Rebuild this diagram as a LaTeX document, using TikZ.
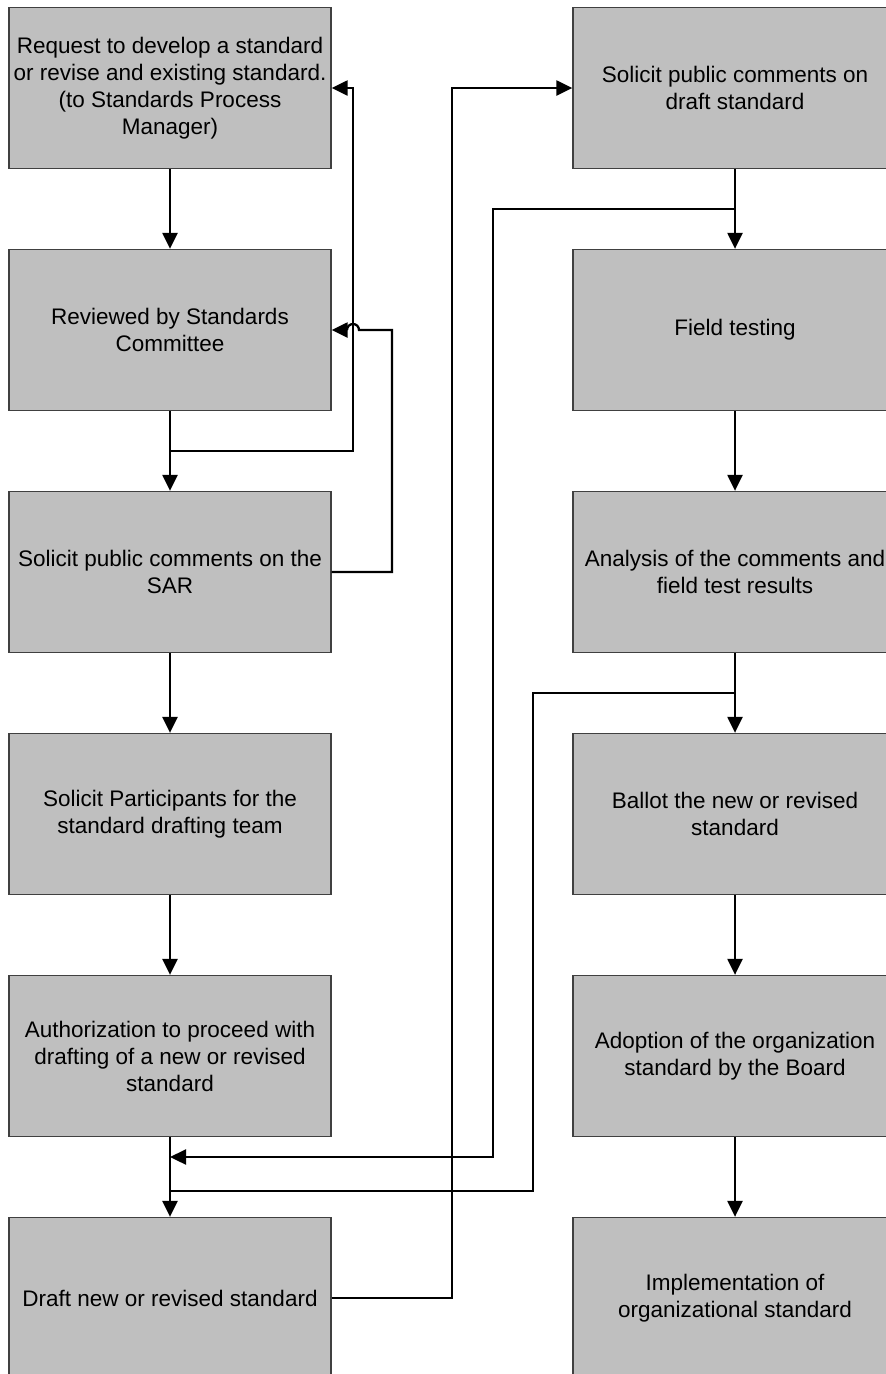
\documentclass[tikz,border=0pt]{standalone}
\usepackage{fontspec}
\setmainfont{Liberation Sans}
\usetikzlibrary{arrows.meta}
\begin{document}
\begin{tikzpicture}[x=1pt,y=-1pt,
  box/.style={draw=black!75, line width=1.3pt, fill=black!25, minimum height=161pt, inner sep=0pt, align=center, font=\fontsize{22.5}{27}\selectfont},
  lbox/.style={box, minimum width=322pt},
  rbox/.style={box, minimum width=324pt},
  conn/.style={line width=2.3pt, line join=miter},
  arr/.style={conn, -{Triangle[length=16pt,width=15pt]}}]
\useasboundingbox (0,0) rectangle (886,1374);
\clip (0,0) rectangle (886,1374);
% left column
\node[lbox] (req) at (170,88) {Request to develop a standard\\or revise and existing standard.\\(to Standards Process\\Manager)};
\node[lbox] (rev) at (170,330) {Reviewed by Standards\\Committee};
\node[lbox] (sar) at (170,572) {Solicit public comments on the\\SAR};
\node[lbox] (par) at (170,814) {Solicit Participants for the\\standard drafting team};
\node[lbox] (aut) at (170,1056) {Authorization to proceed with\\drafting of a new or revised\\standard};
\node[lbox] (dra) at (170,1298) {Draft new or revised standard};
% right column
\node[rbox] (sd) at (735,88) {Solicit public comments on\\draft standard};
\node[rbox] (ft) at (735,330) {Field testing};
\node[rbox] (an) at (735,572) {Analysis of the comments and\\field test results};
\node[rbox] (bal) at (735,814) {Ballot the new or revised\\standard};
\node[rbox] (ado) at (735,1056) {Adoption of the organization\\standard by the Board};
\node[rbox] (imp) at (735,1298) {Implementation of\\organizational standard};
% junction coordinates
\coordinate (j1) at (170,451);
\coordinate (b1) at (353,451);
\coordinate (b2) at (392,572);
\coordinate (b3) at (392,330);
\coordinate (h1) at (359,330);
\coordinate (j2) at (735,209);
\coordinate (b4) at (493,1157);
\coordinate (j4) at (170,1157);
\coordinate (j3) at (735,693);
\coordinate (b5) at (533,1191);
\coordinate (j5) at (170,1191);
\coordinate (b6) at (452,1298);
% left column flow
\draw[arr] (req) -- (rev);
\draw[arr] (rev) -- (sar);
\draw[arr] (sar) -- (par);
\draw[arr] (par) -- (aut);
\draw[arr] (aut) -- (dra);
% feedback loops
\draw[arr] (j1) -- (b1) |- (req.east);
\draw[arr] (sar.east) -- (b2) -- (b3) -- (h1) arc[start angle=0, end angle=180, radius=6pt] -- (rev.east);
% draft to right column
\draw[arr] (dra.east) -- (b6) |- (sd.west);
% right column flow
\draw[arr] (sd) -- (ft);
\draw[arr] (ft) -- (an);
\draw[arr] (an) -- (bal);
\draw[arr] (bal) -- (ado);
\draw[arr] (ado) -- (imp);
% returns
\draw[arr] (j2) -| (b4) -- (j4);
\draw[conn] (j3) -| (b5) -- (j5);
\end{tikzpicture}
\end{document}
